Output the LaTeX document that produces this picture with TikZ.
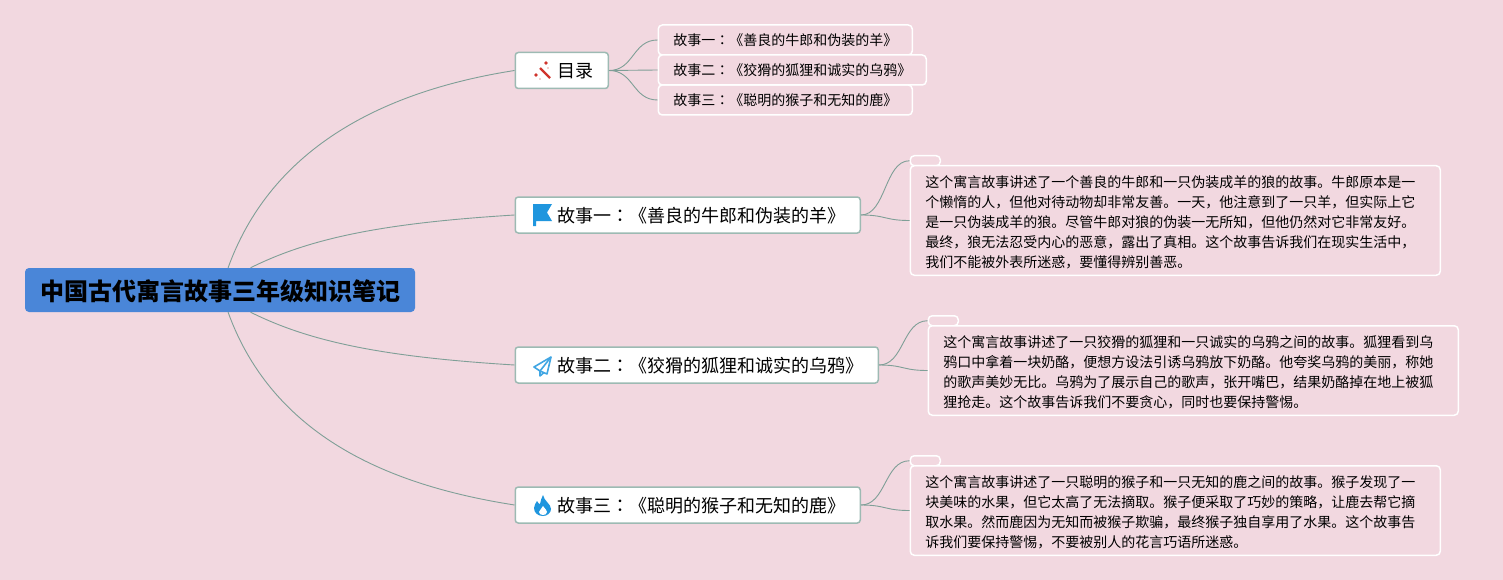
\documentclass[tikz,border=0pt]{standalone}
\usepackage{fontspec}
\setmainfont{Noto Sans CJK SC}
\newfontfamily\colonfont{Noto Sans CJK TC}
\newcommand{\mdot}{{\colonfont ：}}
\definecolor{bgpink}{HTML}{F2D8E0}
\definecolor{rootblue}{HTML}{4A86D8}
\definecolor{branchline}{HTML}{7F9F97}
\definecolor{branchedge}{HTML}{9DBAB3}
\definecolor{iconblue}{HTML}{1F96DE}
\definecolor{iconred}{HTML}{D0342C}
\tikzset{
	rootnode/.style={fill=rootblue, rounded corners=4pt, text width=390pt, minimum height=44pt, inner xsep=0pt, align=center, font=\fontsize{24}{28}\selectfont\bfseries, execute at end node={\vspace*{-2pt}}},
	branch/.style={draw=branchedge, line width=1.5pt, fill=white, rounded corners=3pt, anchor=west, minimum height=36pt, inner xsep=0pt, text width=#1, align=left, font=\fontsize{18}{22}\selectfont, execute at begin node={\hspace*{42pt}}, execute at end node={\vspace*{-2pt}}},
	tocitem/.style={draw=white, line width=1.5pt, fill=bgpink, rounded corners=4pt, anchor=west, minimum height=30pt, inner xsep=0pt, text width=#1, align=left, font=\fontsize{14}{17}\selectfont, execute at begin node={\hspace*{15pt}}, execute at end node={\vspace*{-3pt}}},
	notebox/.style={draw=white, line width=1.5pt, fill=bgpink, rounded corners=4pt, anchor=north west, minimum height=#1, inner xsep=15pt, inner ysep=0pt, text width=500pt, align=left, font=\fontsize{14}{20}\selectfont, execute at end node={\vspace*{-3pt}}},
	notetab/.style={draw=white, line width=1.5pt, fill=bgpink, rounded corners=4pt, anchor=north west, minimum width=30pt, minimum height=10pt, inner sep=0pt},
	link/.style={draw=branchline, line width=0.9pt},
}
\begin{document}
\begin{tikzpicture}[x=1pt,y=-1pt]
	\fill[bgpink] (0,0) rectangle (1503,580);
	\useasboundingbox (0,0) rectangle (1503,580);

	% centre
	\node[rootnode] (root) at (220,290) {中国古代寓言故事三年级知识笔记};

	% main branches
	\node[branch=93pt] (mulu) at (514.5,70.5) {目录};
	\node[branch=345pt] (story1) at (514.5,215) {故事一\mdot《善良的牛郎和伪装的羊》};
	\node[branch=363pt] (story2) at (514.5,365) {故事二\mdot《狡猾的狐狸和诚实的乌鸦》};
	\node[branch=345pt] (story3) at (514.5,505) {故事三\mdot《聪明的猴子和无知的鹿》};

	% table of contents
	\node[tocitem=254pt] (toc1) at (657.5,40) {故事一\mdot《善良的牛郎和伪装的羊》};
	\node[tocitem=254pt] (toc3) at (657.5,100) {故事三\mdot《聪明的猴子和无知的鹿》};
	\node[tocitem=268pt] (toc2) at (657.5,70) {故事二\mdot《狡猾的狐狸和诚实的乌鸦》};

	% notes
	\node[notetab] (tab1) at (909.5,155) {};
	\node[notebox=109.5pt] (note1) at (909.5,165) {这个寓言故事讲述了一个善良的牛郎和一只伪装成羊的狼的故事。牛郎原本是一\\
		个懒惰的人，但他对待动物却非常友善。一天，他注意到了一只羊，但实际上它\\
		是一只伪装成羊的狼。尽管牛郎对狼的伪装一无所知，但他仍然对它非常友好。\\
		最终，狼无法忍受内心的恶意，露出了真相。这个故事告诉我们在现实生活中，\\
		我们不能被外表所迷惑，要懂得辨别善恶。};
	\node[notetab] (tab2) at (927.5,315) {};
	\node[notebox=89.5pt] (note2) at (927.5,325) {这个寓言故事讲述了一只狡猾的狐狸和一只诚实的乌鸦之间的故事。狐狸看到乌\\
		鸦口中拿着一块奶酪，便想方设法引诱乌鸦放下奶酪。他夸奖乌鸦的美丽，称她\\
		的歌声美妙无比。乌鸦为了展示自己的歌声，张开嘴巴，结果奶酪掉在地上被狐\\
		狸抢走。这个故事告诉我们不要贪心，同时也要保持警惕。};
	\node[notetab] (tab3) at (909.5,455) {};
	\node[notebox=89.5pt] (note3) at (909.5,465) {这个寓言故事讲述了一只聪明的猴子和一只无知的鹿之间的故事。猴子发现了一\\
		块美味的水果，但它太高了无法摘取。猴子便采取了巧妙的策略，让鹿去帮它摘\\
		取水果。然而鹿因为无知而被猴子欺骗，最终猴子独自享用了水果。这个故事告\\
		诉我们要保持警惕，不要被别人的花言巧语所迷惑。};

	% connectors
	\draw[link] (root.70) .. controls +(47,-130) and +(-115,18) .. (mulu.west);
	\draw[link] (root.36) .. controls +(60,-30) and +(-130,8) .. (story1.west);
	\draw[link] (root.-36) .. controls +(60,30) and +(-130,-8) .. (story2.west);
	\draw[link] (root.-70) .. controls +(47,130) and +(-115,-18) .. (story3.west);
	\foreach \a/\b in {mulu/toc1,mulu/toc2,mulu/toc3,story1/tab1,story1/note1,story2/tab2,story2/note2,story3/tab3,story3/note3} {
		\draw[link] (\a.east) .. controls +(25,0) and +(-25,0) .. (\b.west);
	}

	% icons
	\draw[iconred, line width=2.4pt] (540,68) -- (550,78);
	\fill[iconred] (536,75) circle (1.8pt) (546,63) circle (1.8pt) (548,68) circle (0.6pt) (540,79) circle (0.6pt);
	\fill[iconblue] (533,204) -- (552,204) -- (547,212.5) -- (552,221) -- (536,221) -- (536,226) -- (533,226) -- cycle;
	\draw[iconblue!85!white, line width=1.6pt, line join=round] (551,357) -- (534,367) -- (540,371) -- (547,374) -- cycle;
	\draw[iconblue!85!white, line width=1.6pt, line join=round] (551,357) -- (540,371) -- (540,376) -- (544,372.5);
	\fill[iconblue] (543,495) .. controls (544,501) and (551,504) .. (551,509) .. controls (551,513) and (547,516) .. (543,516) .. controls (538,516) and (534,513) .. (534,508) .. controls (534,505) and (536,503) .. (537,501) .. controls (538,503) and (539,504) .. (540,504) .. controls (541,501) and (541,498) .. (543,495) -- cycle;
	\fill[white] (543,506) .. controls (545,509) and (547,510) .. (547,512) .. controls (547,514) and (545,515) .. (543,515) .. controls (541,515) and (539,514) .. (539,512) .. controls (539,510) and (542,509) .. (543,506) -- cycle;
\end{tikzpicture}
\end{document}
